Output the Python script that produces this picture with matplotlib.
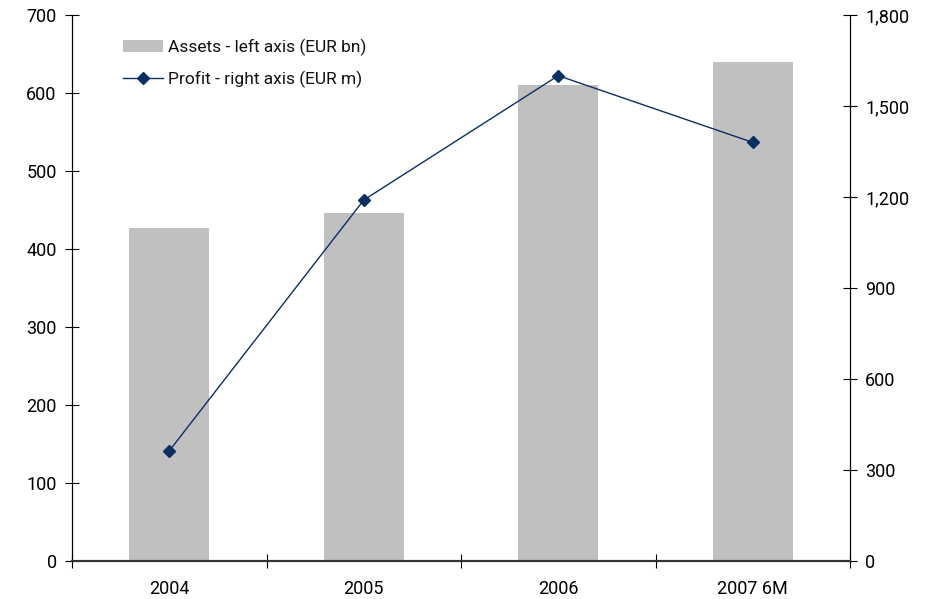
import matplotlib
matplotlib.use("Agg")
import matplotlib.pyplot as plt
from matplotlib.ticker import FuncFormatter

plt.rcParams['font.family'] = ['Roboto', 'DejaVu Sans']
plt.rcParams['text.color'] = '#111111'

years = ['2004', '2005', '2006', '2007 6M']
assets = [427, 446, 610, 640]      # EUR bn, left axis
profit = [363, 1190, 1600, 1380]   # EUR m, right axis

fig = plt.figure(figsize=(9.3, 5.99), dpi=100)
ax = fig.add_axes([72 / 930, 38 / 599, 778 / 930, 546 / 599])
ax2 = ax.twinx()

x = list(range(len(years)))
bars = ax.bar(x, assets, width=0.41, color='#c0c0c0', label='Assets - left axis (EUR bn)', zorder=1)
line, = ax2.plot(x, profit, color='#0b2f63', lw=1.0, marker='D', ms=6.5,
                 label='Profit - right axis (EUR m)', zorder=3)

ax.set_xlim(-0.5, 3.5)
ax.set_ylim(0, 700)
ax.set_yticks(range(0, 701, 100))
ax2.set_ylim(0, 1800)
ax2.set_yticks(range(0, 1801, 300))
ax2.yaxis.set_major_formatter(FuncFormatter(lambda v, p: f'{int(v):,}'))

ax.set_xticks(x)
ax.set_xticklabels(years)
ax.set_xticks([-0.5, 0.5, 1.5, 2.5, 3.5], minor=True)
ax.tick_params(axis='x', which='major', length=0, pad=14, labelsize=13)
ax.tick_params(axis='x', which='minor', direction='inout', length=10, width=0.8)
ax.tick_params(axis='y', direction='inout', length=10, width=0.8, labelsize=13, pad=6)
ax2.tick_params(axis='y', direction='inout', length=10, width=0.8, labelsize=13, pad=6)

for a in (ax, ax2):
    a.spines['top'].set_visible(False)
    a.spines['left'].set_linewidth(0.8)
    a.spines['right'].set_linewidth(0.8)
    a.spines['bottom'].set_linewidth(1.5)
    a.spines['bottom'].set_color('#333333')

ax.legend([bars, line], [bars.get_label(), line.get_label()], loc='upper left',
          bbox_to_anchor=(0.045, 0.985), frameon=False, fontsize=12.5,
          handlelength=2.3, handletextpad=0.3, labelspacing=0.85)

fig.savefig('out.png', dpi=100)
